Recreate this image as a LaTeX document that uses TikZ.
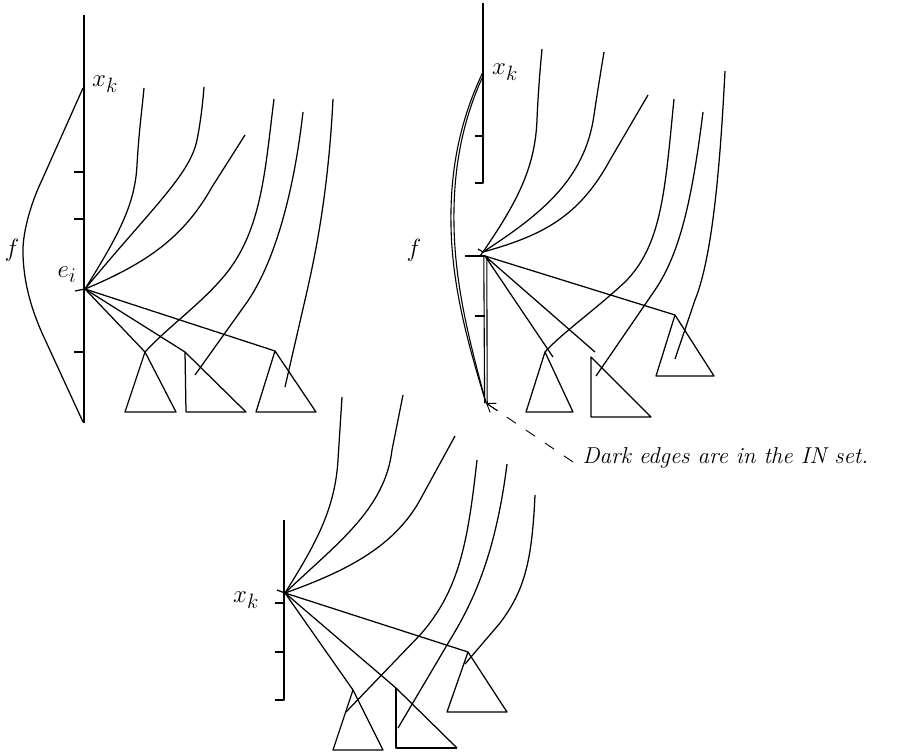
\documentclass[tikz,border=0pt]{standalone}
\usetikzlibrary{arrows.meta,calc}
\begin{document}
\begin{tikzpicture}[x=1pt,y=-1pt,line width=1.25pt,line join=round,
  lab/.style={font=\fontsize{24.88}{28}\selectfont,inner sep=0pt},
  dark/.style={line width=1.1pt}]
\useasboundingbox (0,0) rectangle (905,754);

% ================= Panel 1 =================
\coordinate (a1top) at (84,15);
\coordinate (a1bot) at (84,423);
\coordinate (E1) at (85,289);
\coordinate (E1s) at (75,291);
\coordinate (p1f0) at (83,88);
\coordinate (p1f1) at (83,422);
\draw (a1top) -- (a1bot);
\foreach \y in {172,219,352} \draw (74,\y) -- (84,\y);
\draw (E1s) -- (E1);
\draw (p1f0) -- (42,180) .. controls (30,205) and (22,235) .. (23,255)
      .. controls (24,285) and (32,310) .. (42,333) -- (p1f1);
\node[lab] (f1) at (12,250) {$f$};
\node[lab] (xk1) at (105,84) {$x_k$};
\node[lab] (ei) at (67,275) {$e_i$};

\coordinate (c1a) at (144,88);
\coordinate (c1b) at (204,87);
\coordinate (c1c) at (245,135);
\draw (E1) .. controls (118,236) and (135,205) .. (137,165) .. controls (139,130) and (142,110) .. (c1a);
\draw (E1) .. controls (150,210) and (190,175) .. (197,140) .. controls (201,120) and (203,100) .. (c1b);
\draw (E1) .. controls (150,262) and (185,235) .. (212,187) -- (c1c);

\coordinate (t1a) at (145,352);
\coordinate (t1b) at (185,352);
\coordinate (t1c) at (275,351);
\draw (E1) -- (t1a);
\draw (E1) -- (t1b);
\draw (E1) -- (t1c);
\draw (t1a) -- (125,412) -- (176,412) -- cycle;
\draw (t1b) -- (186,412) -- (246,412) -- cycle;
\draw (t1c) -- (256,412) -- (316,412) -- cycle;

\coordinate (d1a) at (274,99);
\coordinate (d1b) at (303,112);
\coordinate (d1c) at (333,99);
\coordinate (e1b) at (195,375);
\coordinate (e1c) at (285,387);
\draw (d1a) .. controls (265,170) and (262,230) .. (225,275) .. controls (200,305) and (170,325) .. (t1a);
\draw (d1b) .. controls (293,200) and (272,268) .. (245,305) -- (e1b);
\draw (d1c) .. controls (328,200) and (313,265) .. (305,300) -- (e1c);

% ================= Panel 2 =================
\coordinate (a2top) at (483,3);
\coordinate (a2mid) at (483,183);
\coordinate (J2) at (485,256);
\coordinate (J2s) at (483,252);
\coordinate (J2bot) at (486,403);
\coordinate (p2f0) at (483,72);
\draw (a2top) -- (a2mid) -- (475,183);
\draw (475,136) -- (483,136);
\draw (465,256) -- (J2);
\draw (475,316) -- (485,316);
\draw[dark] (483.8,256) -- (484.6,403);
\draw[dark] (486.8,256) -- (487.2,403);
\draw[dark] (p2f0) .. controls (460,120) and (450,170) .. (451,225) .. controls (452,290) and (470,350) .. (J2bot);
\draw[dark] (483,76) .. controls (462,122) and (453,170) .. (454,225) .. controls (455,290) and (472,350) .. (J2bot);
\draw (478,249) -- (J2s) -- (480,256);
\node[lab] (f2) at (414,250) {$f$};
\node[lab] (xk2) at (505,72) {$x_k$};

\coordinate (c2a) at (542,49);
\coordinate (c2b) at (604,52);
\coordinate (c2c) at (648,95);
\draw (J2s) .. controls (515,205) and (535,170) .. (537,120) .. controls (538,95) and (540,70) .. (c2a);
\draw (J2s) .. controls (540,215) and (585,180) .. (594,115) .. controls (597,95) and (601,70) .. (c2b);
\draw (J2s) .. controls (545,235) and (580,215) .. (610,160) -- (c2c);

\coordinate (t2a) at (545,352);
\coordinate (t2ax) at (553,357);
\coordinate (t2b) at (591,357);
\coordinate (t2bx) at (595,352);
\coordinate (t2c) at (675,315);
\draw (J2) -- (t2ax);
\draw (J2) -- (t2bx);
\draw (J2) -- (t2c);
\draw (t2a) -- (526,412) -- (573,412) -- cycle;
\draw (t2b) -- (591,417) -- (651,417) -- cycle;
\draw (t2c) -- (656,376) -- (714,376) -- cycle;

\coordinate (d2a) at (674,99);
\coordinate (d2b) at (703,112);
\coordinate (d2c) at (725,71);
\coordinate (e2b) at (596,376);
\coordinate (e2c) at (675,359);
\draw (d2a) .. controls (665,190) and (662,245) .. (625,282) .. controls (595,310) and (562,333) .. (t2a);
\draw (d2b) .. controls (692,200) and (680,253) .. (655,290) -- (e2b);
\draw (d2c) .. controls (720,170) and (712,258) .. (695,300) -- (e2c);

% annotation
\node[inner sep=0pt,font=\fontsize{23}{26}\selectfont,anchor=base west] (note) at (582,463) {\textit{Dark edges are in the IN set.}};
\coordinate (arrS) at (573,462);
\draw[line width=0.9pt,dash pattern=on 11pt off 12pt] (arrS) -- (J2bot);
\draw[line width=0.9pt,-{Straight Barb[length=8pt,width=11pt]}] ($(J2bot)!14pt!(arrS)$) -- (J2bot);

% ================= Panel 3 =================
\coordinate (a3top) at (284,520);
\coordinate (a3bot) at (284,700);
\coordinate (J3) at (285,593);
\coordinate (J3s) at (277,590);
\draw (a3top) -- (a3bot) -- (275,700);
\draw (275,603) -- (284,603);
\draw (275,652) -- (284,652);
\draw (J3s) -- (J3);
\node[lab] (xk3) at (246,600) {$x_k$};

\coordinate (c3a) at (342,397);
\coordinate (c3b) at (403,395);
\coordinate (c3c) at (455,436);
\draw (J3) .. controls (315,545) and (335,510) .. (338,460) -- (c3a);
\draw (J3) .. controls (335,545) and (385,510) .. (392,450) -- (c3b);
\draw (J3) .. controls (350,570) and (395,545) .. (420,500) -- (c3c);

\coordinate (t3a) at (353,690);
\coordinate (t3b) at (396,688);
\coordinate (t3bx) at (457,748);
\coordinate (t3c) at (468,652);
\draw (J3) -- (t3a);
\draw (J3) -- (t3b) -- (t3bx);
\draw (J3) -- (t3c);
\draw (t3a) -- (333,750) -- (383,750) -- cycle;
\draw (t3b) -- (396,748) -- (t3bx);
\draw (t3c) -- (447,712) -- (507,712) -- cycle;

\coordinate (d3a) at (477,460);
\coordinate (d3b) at (507,464);
\coordinate (d3c) at (535,495);
\coordinate (e3a) at (346,712);
\coordinate (e3b) at (398,728);
\coordinate (e3c) at (465,664);
\draw (d3a) .. controls (468,540) and (460,590) .. (420,635) -- (e3a);
\draw (d3b) .. controls (495,560) and (470,607) .. (450,640) -- (e3b);
\draw (d3c) .. controls (532,560) and (525,590) .. (500,623) -- (e3c);
\end{tikzpicture}
\end{document}
